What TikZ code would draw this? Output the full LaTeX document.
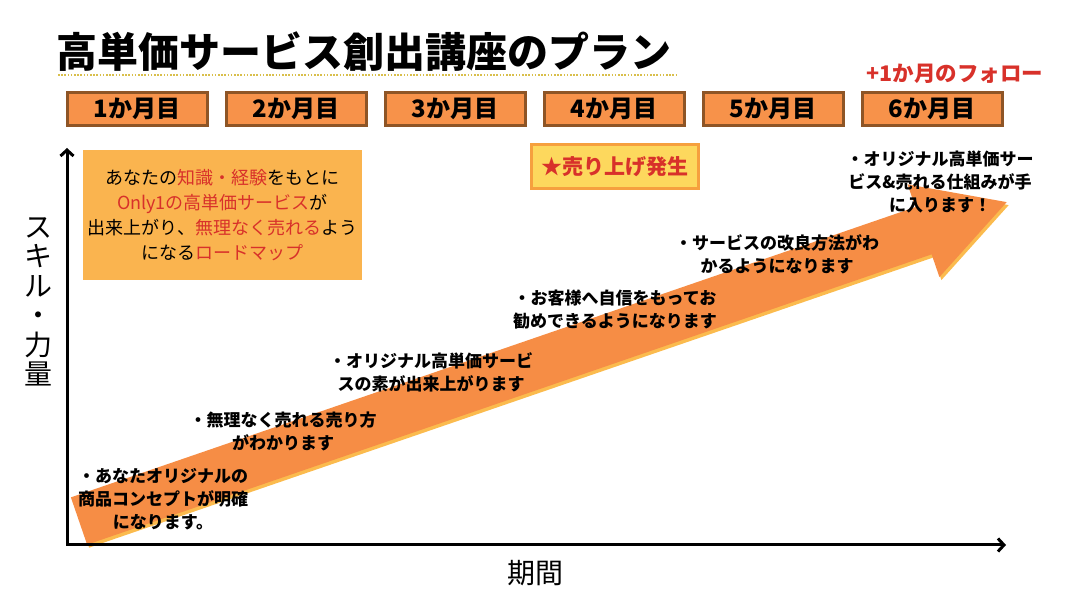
\documentclass[tikz,border=0pt]{standalone}
\usepackage{fontspec}
\setmainfont{Noto Sans CJK JP}
\usetikzlibrary{arrows.meta}

\definecolor{monthfill}{HTML}{F7924A}
\definecolor{monthline}{HTML}{8E5526}
\definecolor{infofill}{HTML}{FAB44F}
\definecolor{salesfill}{HTML}{FDD85D}
\definecolor{salesline}{HTML}{F6A03E}
\definecolor{arrowmain}{HTML}{F68D45}
\definecolor{arrowshade}{HTML}{FBBB4E}
\definecolor{accred}{HTML}{D8312A}
\definecolor{dotgold}{HTML}{D9BF4C}

\newcommand{\acc}[1]{\textcolor{accred}{#1}}

\begin{document}
\begin{tikzpicture}[x=1pt,y=1pt,>={Straight Barb[length=6pt,width=13pt]},
    month/.style={draw=monthline, line width=3pt, fill=monthfill, minimum width=140pt,
      minimum height=33pt, inner sep=0pt, font=\fontsize{24}{24}\selectfont\bfseries},
    stage/.style={align=center, inner sep=0pt, font=\fontsize{17}{23}\selectfont\bfseries},
    axislabel/.style={inner sep=0pt, font=\fontsize{28}{29.5}\selectfont}]
    \def\arrowlen{981}
    \def\shaftw{25}
    \def\headw{49}
    \def\headl{88}
    \def\tilt{18.97}

    \useasboundingbox (0,0) rectangle (1079,615);

    % title
    \node[anchor=west, inner sep=0pt, font=\fontsize{41}{41}\selectfont\bfseries] (title) at (56,563)
        {高単価サービス創出講座のプラン};
    \coordinate (dotl) at (58,540);
    \coordinate (dotr) at (676,540);
    \draw[dotgold, line width=2pt, dash pattern=on 1.6pt off 1.6pt] (dotl) -- (dotr);

    % months
    \foreach \i in {1,...,6}
        \node[month] (m\i) at ({137+159*(\i-1)},506) {\i か月目};
    \node[inner sep=0pt, text=accred, font=\fontsize{21.5}{21.5}\selectfont\bfseries] (follow) at (955,541)
        {+1か月のフォロー};

    % big arrow
    \begin{scope}[shift={(81,91)}, rotate=\tilt]
        \fill[arrowshade] (0,-\shaftw) -- (\arrowlen-\headl,-\shaftw) -- (\arrowlen-\headl,-\headw)
            -- (\arrowlen,0) -- (\arrowlen-\headl,\headw) -- (\arrowlen-\headl,\shaftw) -- (0,\shaftw) -- cycle;
    \end{scope}
    \begin{scope}[shift={(79,94)}, rotate=\tilt]
        \fill[arrowmain] (0,-\shaftw) -- (\arrowlen-\headl,-\shaftw) -- (\arrowlen-\headl,-\headw)
            -- (\arrowlen,0) -- (\arrowlen-\headl,\headw) -- (\arrowlen-\headl,\shaftw) -- (0,\shaftw) -- cycle;
    \end{scope}

    % axes
    \coordinate (origin) at (67,70);
    \coordinate (ytop) at (67,467);
    \coordinate (xend) at (1006,70);
    \draw[line width=3pt, <->] (ytop) -- (origin) -- (xend);
    \node[axislabel, align=center] (ylab) at (38,313) {ス\\キ\\ル\\・\\力\\量};
    \node[axislabel] (xlab) at (535,42) {期間};

    % boxes
    \node[fill=infofill, minimum width=279pt, minimum height=130pt, align=center, inner sep=0pt,
        font=\fontsize{18}{25}\selectfont] (info) at (222.5,400)
        {あなたの\acc{知識・経験}をもとに\\
         \acc{Only1の高単価サービス}が\\
         出来上がり、\acc{無理なく売れる}よう\\
         になる\acc{ロードマップ}};
    \node[draw=salesline, line width=3pt, fill=salesfill, minimum width=167pt, minimum height=44pt,
        inner sep=0pt, text=accred, font=\fontsize{21}{21}\selectfont\bfseries] (sales) at (615,448.5)
        {★売り上げ発生};

    % steps
    \node[stage] (s1) at (163,116) {・あなたオリジナルの\\商品コンセプトが明確\\になります。};
    \node[stage] (s2) at (283,183.5) {・無理なく売れる売り方\\がわかります};
    \node[stage] (s3) at (431,242.5) {・オリジナル高単価サービ\\スの素が出来上がります};
    \node[stage] (s4) at (615,305) {・お客様へ自信をもってお\\勧めできるようになります};
    \node[stage] (s5) at (777,361) {・サービスの改良方法がわ\\かるようになります};
    \node[stage] (s6) at (940,433) {・オリジナル高単価サー\\ビス\&売れる仕組みが手\\に入ります！};
\end{tikzpicture}
\end{document}
